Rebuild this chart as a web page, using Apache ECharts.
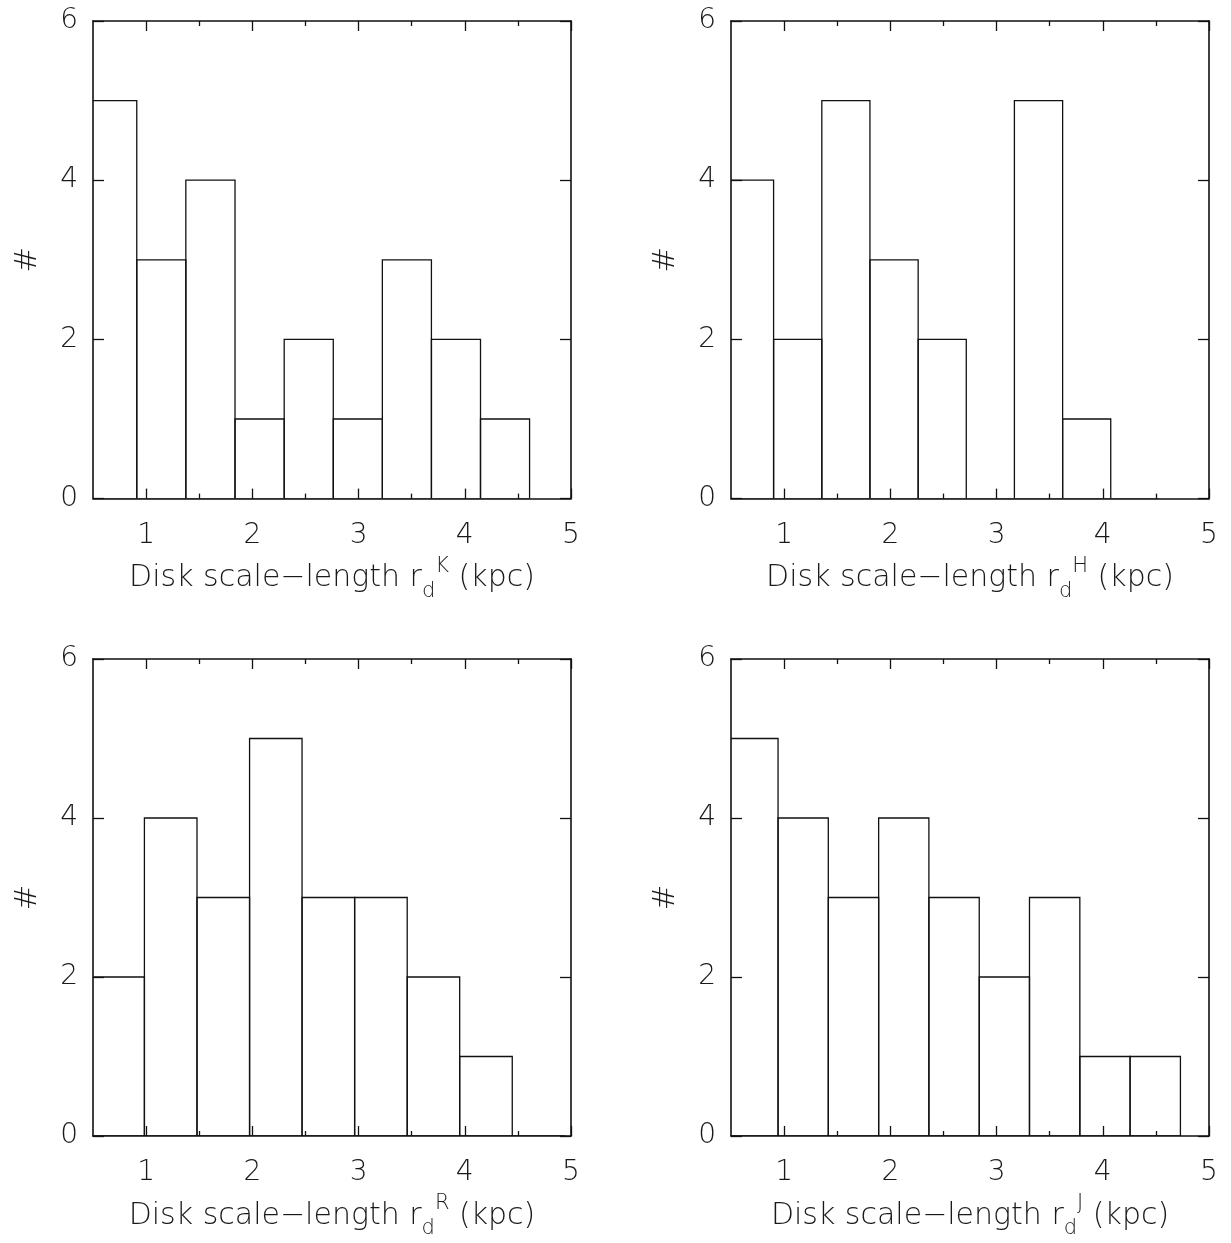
<!DOCTYPE html>
<html>
<head>
<meta charset="utf-8">
<script src="https://cdn.jsdelivr.net/npm/echarts@6/dist/echarts.min.js"></script>
<style>
html,body{margin:0;padding:0;background:#fff;}
#chart{width:1231px;height:1243px;}
</style>
</head>
<body>
<div id="chart"></div>
<script>
// ---- Data (bin edges in kpc, counts per bin) ----
const kEdges = [0.45, 0.912, 1.374, 1.837, 2.30, 2.762, 3.224, 3.686, 4.148, 4.61];
const kCounts = [5, 3, 4, 1, 2, 1, 3, 2, 1];

const hEdges = [0.448, 0.901, 1.355, 1.808, 2.262, 2.715, 3.168, 3.622, 4.075, 4.528];
const hCounts = [4, 2, 5, 3, 2, 0, 5, 1, 0];

const rEdges = [0.49, 0.984, 1.479, 1.974, 2.468, 2.963, 3.458, 3.952, 4.447, 4.942];
const rCounts = [2, 4, 3, 5, 3, 3, 2, 1, 0];

const jEdges = [0.469, 0.943, 1.416, 1.89, 2.363, 2.837, 3.31, 3.784, 4.257, 4.731];
const jCounts = [5, 4, 3, 4, 3, 2, 3, 1, 1];

const bands = ['K', 'H', 'R', 'J'];
const xMajorTicks = [1, 2, 3, 4, 5];
const xMinorTicks = [1.5, 2.5, 3.5, 4.5];
const xMin = 0.5, xMax = 5;
const yMin = 0, yMax = 6, yInterval = 2;
const yName = '#';

const panels = [
  {edges: kEdges, counts: kCounts, band: bands[0], left: 93, top: 21, height: 477.6},
  {edges: hEdges, counts: hCounts, band: bands[1], left: 731, top: 21, height: 477.6},
  {edges: rEdges, counts: rCounts, band: bands[2], left: 93, top: 659, height: 477},
  {edges: jEdges, counts: jCounts, band: bands[3], left: 731, top: 659, height: 477}
];

const FONT = '"DejaVu Sans"';
const FW = 200;
const TXT = '#1a1a1a';
const LINE = '#111';

const grids = [], xAxes = [], yAxes = [], series = [];
panels.forEach((p, g) => {
  grids.push({left: p.left, top: p.top, width: 478, height: p.height, containLabel: false});
  const baseX = {
    gridIndex: g, type: 'value', min: xMin, max: xMax,
    splitLine: {show: false}
  };
  xAxes.push(Object.assign({}, baseX, {
    position: 'bottom',
    axisLine: {show: true, onZero: false, lineStyle: {color: LINE, width: 1.6}},
    axisTick: {show: true, inside: true, length: 10, customValues: xMajorTicks, lineStyle: {color: LINE, width: 1.3}},
    axisLabel: {show: true, customValues: xMajorTicks, margin: 23, fontFamily: FONT, fontWeight: FW, fontSize: 28, color: TXT},
    name: '{t|Disk scale\u2212length r}{sub|d}{sup|' + p.band + '}{t| (kpc)}',
    nameLocation: 'middle',
    nameGap: 57,
    nameTextStyle: {
      rich: {
        t: {fontFamily: FONT, fontWeight: FW, fontSize: 30, color: TXT, lineHeight: 46, verticalAlign: 'middle'},
        sub: {fontFamily: FONT, fontWeight: FW, fontSize: 21, color: TXT, verticalAlign: 'bottom', lineHeight: 21},
        sup: {fontFamily: FONT, fontWeight: FW, fontSize: 21, color: TXT, verticalAlign: 'top', lineHeight: 21}
      }
    }
  }));
  xAxes.push(Object.assign({}, baseX, {
    position: 'bottom', offset: 0,
    axisLine: {show: false, onZero: false},
    axisTick: {show: true, inside: true, length: 5, customValues: xMinorTicks, lineStyle: {color: LINE, width: 1.3}},
    axisLabel: {show: false}
  }));
  xAxes.push(Object.assign({}, baseX, {
    position: 'top', offset: 0,
    axisLine: {show: true, onZero: false, lineStyle: {color: LINE, width: 1.6}},
    axisTick: {show: true, inside: true, length: 10, customValues: xMajorTicks, lineStyle: {color: LINE, width: 1.3}},
    axisLabel: {show: false}
  }));
  xAxes.push(Object.assign({}, baseX, {
    position: 'top', offset: 0,
    axisLine: {show: false, onZero: false},
    axisTick: {show: true, inside: true, length: 5, customValues: xMinorTicks, lineStyle: {color: LINE, width: 1.3}},
    axisLabel: {show: false}
  }));
  yAxes.push({
    gridIndex: g, type: 'value', min: yMin, max: yMax, interval: yInterval, position: 'left',
    splitLine: {show: false},
    axisLine: {show: true, onZero: false, lineStyle: {color: LINE, width: 1.6}},
    axisTick: {show: true, inside: true, length: 11, lineStyle: {color: LINE, width: 1.3}},
    axisLabel: {show: true, margin: 15, fontFamily: FONT, fontWeight: FW, fontSize: 28, color: TXT},
    name: yName, nameLocation: 'middle', nameGap: 50, nameRotate: 90,
    nameTextStyle: {fontFamily: FONT, fontWeight: FW, fontSize: 31, color: TXT}
  });
  yAxes.push({
    gridIndex: g, type: 'value', min: yMin, max: yMax, interval: yInterval, position: 'right',
    splitLine: {show: false},
    axisLine: {show: true, onZero: false, lineStyle: {color: LINE, width: 1.6}},
    axisTick: {show: true, inside: true, length: 11, lineStyle: {color: LINE, width: 1.3}},
    axisLabel: {show: false}
  });

  const data = p.counts.map((c, i) => [p.edges[i], p.edges[i + 1], c]);
  series.push({
    type: 'custom',
    xAxisIndex: g * 4,
    yAxisIndex: g * 2,
    clip: true,
    silent: true,
    data: data,
    renderItem: function (params, api) {
      const x0 = api.value(0), x1 = api.value(1), c = api.value(2);
      const pTop = api.coord([x0, c]);
      const pBot = api.coord([x1, 0]);
      return {
        type: 'rect',
        shape: {x: pTop[0], y: pTop[1], width: pBot[0] - pTop[0], height: pBot[1] - pTop[1]},
        style: {fill: null, stroke: LINE, lineWidth: 1.3}
      };
    }
  });
});

const chart = echarts.init(document.getElementById('chart'), null, {renderer: 'canvas'});
chart.setOption({
  animation: false,
  backgroundColor: '#fff',
  grid: grids,
  xAxis: xAxes,
  yAxis: yAxes,
  series: series
});
</script>
</body>
</html>
